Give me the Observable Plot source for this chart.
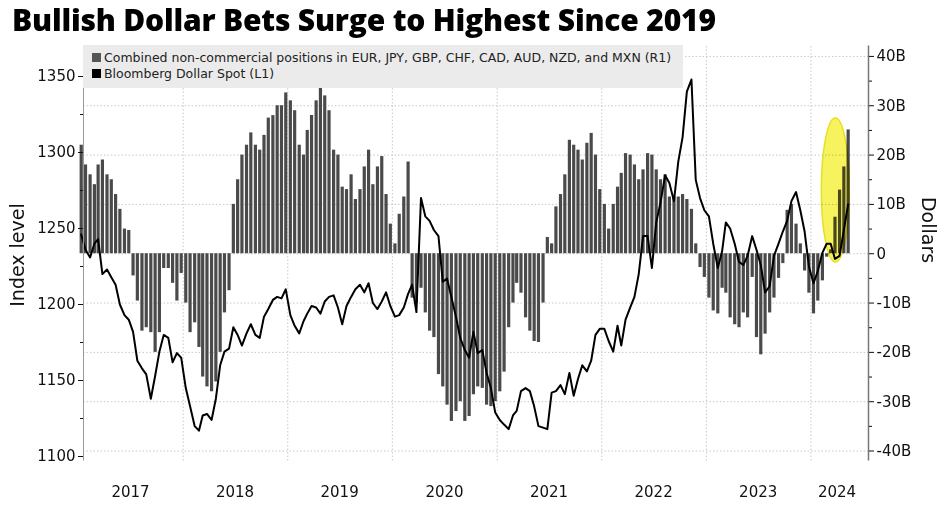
<!DOCTYPE html>
<html>
<head>
<meta charset="utf-8">
<script src="https://cdn.jsdelivr.net/npm/d3@7"></script>
<script src="https://cdn.jsdelivr.net/npm/@observablehq/plot@0.6"></script>
<style>
  body { margin: 0; background: #fff; width: 948px; position: relative; }
  #title { font-family: "Open Sans", sans-serif; font-weight: 800; font-size: 30px; height: 40px; line-height: 40px; padding-left: 12px; letter-spacing: -0.2px; }
  #legend { position: absolute; left: 83px; top: 45px; width: 600px; height: 43px; background: #ebebeb;
            font-family: "DejaVu Sans", sans-serif; font-size: 12.5px; color: #222; padding: 5px 0 0 9px; box-sizing: border-box; line-height: 16px; }
  #legend span.sq { display: inline-block; width: 9px; height: 9px; margin-right: 3px; }
</style>
</head>
<body>
<div id="title">Bullish Dollar Bets Surge to Highest Since 2019</div>
<div id="chart"></div>
<div id="legend">
  <div><span class="sq" style="background:#555"></span>Combined non-commercial positions in EUR, JPY, GBP, CHF, CAD, AUD, NZD, and MXN (R1)</div>
  <div><span class="sq" style="background:#000"></span>Bloomberg Dollar Spot (L1)</div>
</div>
<script>
// semi-monthly readings, Jan 2017 .. Apr 2024
// net positions, billions of dollars (right axis)
const positions = [
  22,18,16,14,18,19,16,15,12,9,5,4.7,
  -4.5,-9.6,-15.7,-15,-16,-20,-16,-3,-3,-6,-9.6,
  -4,-10,-16,-14,-19,-25,-27,-28,-26,-20,-12,-7.5,
  10,15,20,22,24.5,22,21,24,27.5,28,30,30,32.6,
  31,29,22,20,25,28,31,35.6,
  32,29,21,20,13.5,13,16,11,13,17.6,21,14,17.6,19.7,12,6,2,8,11.5,18.6,
  -9,-10,-7,-12,-15.7,-17,-24.5,-27,-30.7,-34,-32,-30,-34,-33,-28.6,-27,-27.3,
  -30.7,-31,-30,-28,-24,-15,-10,-6,-8,-13,-15.7,-17.8,-18,-10,
  3.3,2,9.5,12,16,23,22,21,19,22.4,24.4,20,13,10,5,10,
  13.5,16.3,20.3,20,18,15,17,20.3,20,17,15,16,11.5,11.5,11.5,12,
  11,9,2,-2.8,-4.8,-9,-11.6,-12.2,-7,-8,-13,-14.4,-15,-12,-13,-4.8,-17,
  -20.5,-16.3,-12,-9,-5,-2,8.8,10,6,2,-3.5,-8,-12.2,-9.6,-5.5,-0.7,0.8,7.4,12.9,17.6,25.1
];
// Bloomberg Dollar Spot index (left axis)
const dollarIndex = [
  1246,1236,1231,1240,1243,1220,1223,1218,1213,1200,1193,1190,1182,1163,1158,1154,
  1138,1153,1169,1180,1178,1162,1168,1165,1145,1133,1120,1117,1127,1128,1124,1138,
  1160,1169,1171,1185,1180,1173,1181,1187,1180,1178,1192,1197,1203,1205,1204,1210,
  1193,1186,1181,1189,1194,1199,1198,1194,1202,1205,1206,1198,1187,1199,1205,1210,
  1213,1208,1214,1201,1197,1202,1208,1199,1192,1193,1198,1207,1213,1195,1270,1258,
  1255,1249,1245,1215,1217,1205,1192,1178,1170,1165,1182,1168,1170,1155,1145,1129,
  1124,1121,1118,1127,1130,1143,1145,1143,1133,1120,1119,1118,1142,1143,1147,1141,
  1155,1140,1151,1160,1156,1163,1180,1184,1184,1176,1169,1186,1173,1190,1198,1205,
  1220,1245,1245,1224,1254,1267,1285,1280,1268,1294,1310,1340,1348,1282,1270,1262,
  1258,1240,1224,1235,1254,1250,1240,1228,1226,1232,1245,1236,1226,1208,1212,1232,
  1240,1248,1255,1268,1274,1262,1248,1225,1214,1222,1234,1240,1240,1230,1232,1249,1266
];
const leftTicks = [1100, 1150, 1200, 1250, 1300, 1350];
const rightTicks = [-40, -30, -20, -10, 0, 10, 20, 30, 40];
const years = [2017, 2018, 2019, 2020, 2021, 2022, 2023, 2024];

// right axis (billions) expressed in left-axis units
const zero = 1233.4, perB = 3.245;
const toLeft = b => zero + b * perB;

const n = Math.min(positions.length, dollarIndex.length);
const data = d3.range(n).map(i => ({
  date: new Date(2017 + Math.floor(i / 24), Math.floor((i % 24) / 2), i % 2 ? 25 : 10),
  pos: positions[i],
  idx: dollarIndex[i]
}));

const x0 = new Date(2017, 0, 18), x1 = new Date(2024, 6, 20);
const yearStarts = years.slice(1).map(y => new Date(y, 0, 1));
const yearMids = years.map(y => y === 2024 ? new Date(2024, 3, 1) : new Date(y, 6, 1));
const font = "DejaVu Sans, sans-serif";

const chart = Plot.plot({
  width: 948,
  height: 466,
  marginLeft: 83,
  marginRight: 80,
  marginTop: 36,
  marginBottom: 50,
  style: { fontFamily: font, color: "#111", background: "transparent" },
  x: { type: "time", domain: [x0, x1] },
  y: { domain: [1100, 1350] },
  marks: [
    Plot.ruleX(yearStarts, { y1: 1097, y2: 1370, stroke: "#c8c8c8", strokeDasharray: "1.5,2" }),
    Plot.ruleY(rightTicks.map(toLeft), { stroke: "#c8c8c8", strokeDasharray: "1.5,2" }),
    Plot.ruleX(data, { x: "date", y1: zero, y2: d => toLeft(d.pos), stroke: "#4a4a4a", strokeWidth: 3.2 }),
    Plot.line(data, { x: "date", y: "idx", stroke: "#000", strokeWidth: 2 }),
    Plot.ruleX([x0], { y1: 1097, y2: 1370, stroke: "#999" }),
    Plot.ruleX([x1], { y1: 1097, y2: 1370, stroke: "#777", strokeWidth: 1.5 }),
    Plot.axisY({ ticks: leftTicks, tickSize: 5, tickPadding: 3, fontSize: 15, label: null, tickFormat: d => String(d) }),
    Plot.axisY({ ticks: d3.range(1125, 1350, 50), tickSize: 3, text: null, label: null }),
    Plot.axisY({
      anchor: "right", ticks: rightTicks.map(toLeft), tickSize: 5, tickPadding: 3, fontSize: 15, label: null,
      tickFormat: v => { const b = Math.round((v - zero) / perB); return b === 0 ? "0" : b + "B"; }
    }),
    Plot.axisY({ anchor: "right", ticks: d3.range(-35, 40, 10).map(toLeft), tickSize: 3, text: null, label: null }),
    Plot.axisX({ ticks: yearMids, tickSize: 0, tickPadding: 30, fontSize: 15, tickFormat: d => String(d.getFullYear()), label: null })
  ]
});

d3.select("#chart").append(() => chart);

// highlight around the latest surge
const sx = chart.scale("x"), sy = chart.scale("y");
const svg = d3.select(chart);
svg.append("ellipse")
  .attr("cx", sx.apply(new Date(2024, 2, 28)))
  .attr("cy", sy.apply(1275))
  .attr("rx", 14).attr("ry", 72)
  .attr("fill", "#f4ef2a").attr("fill-opacity", 0.75)
  .attr("stroke", "#e6e020").attr("stroke-width", 1.5)
  .style("mix-blend-mode", "multiply");

svg.append("text").attr("transform", "translate(24,215) rotate(-90)")
  .attr("text-anchor", "middle").attr("font-size", 19).attr("font-family", font).text("Index level");
svg.append("text").attr("transform", "translate(922,190) rotate(90)")
  .attr("text-anchor", "middle").attr("font-size", 19).attr("font-family", font).text("Dollars");
</script>
</body>
</html>
